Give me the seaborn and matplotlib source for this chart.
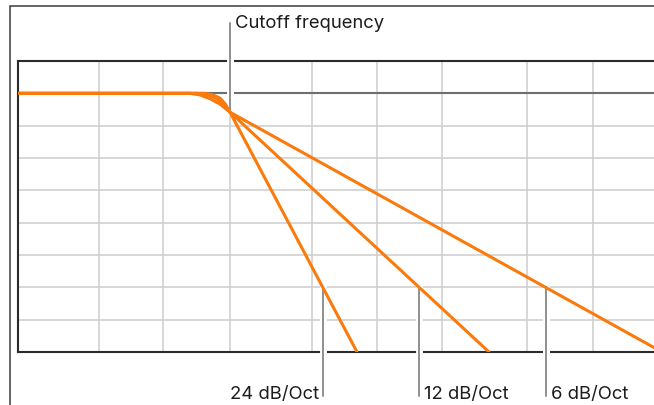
import numpy as np
import pandas as pd
import matplotlib
matplotlib.use("Agg")
import matplotlib.pyplot as plt
import matplotlib.patches as mpatches
import matplotlib.patheffects as pe
import seaborn as sns

ORANGE = "#FA7A0C"
GRID_COLOR = "#cdcdcd"
ZERO_COLOR = "#6e6e6e"
FRAME_COLOR = "#2b2b2b"
LEADER_COLOR = "#8c8c8c"
TEXT_COLOR = "#1c1c1c"

# horizontal position along the sketch (pixel-like units) and level in dB
pos_24 = [18, 205, 213, 220, 225, 230, 357]
db_24 = [0, 0, -0.3, -0.9, -1.9, -3.5, -48]
pos_12 = [18, 198, 208, 216, 223, 230, 489]
db_12 = [0, 0, -0.3, -0.9, -1.9, -3.5, -48]
pos_6 = [18, 190, 200, 210, 220, 230, 662]
db_6 = [0, 0, -0.3, -1.0, -2.0, -3.5, -48]
slope_labels = ["24 dB/Oct", "12 dB/Oct", "6 dB/Oct"]

grid_pos = [99, 163, 230, 312, 377, 442, 527, 593]
grid_db = [-6, -12, -18, -24, -30, -36, -42]
cutoff_pos = 230
cutoff_db = -3.5
label_db = -36

sns.set_style("white")
plt.rcParams["font.family"] = ["Inter", "DejaVu Sans"]

df = pd.concat([
    pd.DataFrame({"pos": p, "db": d, "slope": s})
    for p, d, s in zip([pos_24, pos_12, pos_6], [db_24, db_12, db_6], slope_labels)
])

W, H = 654, 405
fig = plt.figure(figsize=(W / 100, H / 100), dpi=100)
ax = fig.add_axes([18 / W, (H - 352) / H, (662 - 18) / W, (352 - 61) / H])
ax.set_xlim(18, 662)
ax.set_ylim(-48, 6)

# outer frame of the illustration (cropped on the right and bottom)
fig.add_artist(mpatches.Rectangle((10 / W, -0.2), 2, 1.2 - 6 / H,
                                  transform=fig.transFigure, fill=False,
                                  ec="#3a3a3a", lw=1.1))

ax.set_xticks(grid_pos)
ax.set_yticks(grid_db)
ax.tick_params(length=0, labelbottom=False, labelleft=False)
ax.grid(True, color=GRID_COLOR, lw=1.1, zorder=0)
ax.set_axisbelow(True)
for side in ["top", "left", "bottom"]:
    ax.spines[side].set_color(FRAME_COLOR)
    ax.spines[side].set_linewidth(1.5)
ax.spines["right"].set_visible(False)

ax.axhline(0, color=ZERO_COLOR, lw=1.5, zorder=1)

sns.lineplot(data=df, x="pos", y="db", hue="slope", palette=[ORANGE] * 3,
             sort=False, estimator=None, legend=False, lw=2.2, ax=ax, zorder=5)
for ln in ax.lines:
    ln.set_solid_joinstyle("round")
ax.set_xlabel("")
ax.set_ylabel("")

halo = [pe.withStroke(linewidth=5, foreground="white"), pe.Normal()]

# cutoff leader
ax.plot([cutoff_pos, cutoff_pos], [cutoff_db, 13.0], color=LEADER_COLOR, lw=1.1,
        clip_on=False, zorder=4, path_effects=halo)
ax.text(cutoff_pos + 5, 12.1, "Cutoff frequency", fontsize=13.3, color=TEXT_COLOR,
        ha="left", va="baseline", clip_on=False)

# slope leaders, anchored where each line crosses the label level
for p, d, s in zip([pos_24, pos_12, pos_6], [db_24, db_12, db_6], slope_labels):
    x0 = np.interp(label_db, d[::-1], p[::-1])
    ax.plot([x0, x0], [label_db, -56.2], color=LEADER_COLOR, lw=1.1,
            clip_on=False, zorder=4, path_effects=halo)
    if s.startswith("24"):
        ax.text(x0 - 4, -56.8, s, fontsize=13.3, color=TEXT_COLOR,
                ha="right", va="baseline", clip_on=False)
    else:
        ax.text(x0 + 5, -56.8, s, fontsize=13.3, color=TEXT_COLOR,
                ha="left", va="baseline", clip_on=False)

fig.savefig("out.png", dpi=100, facecolor="white")
